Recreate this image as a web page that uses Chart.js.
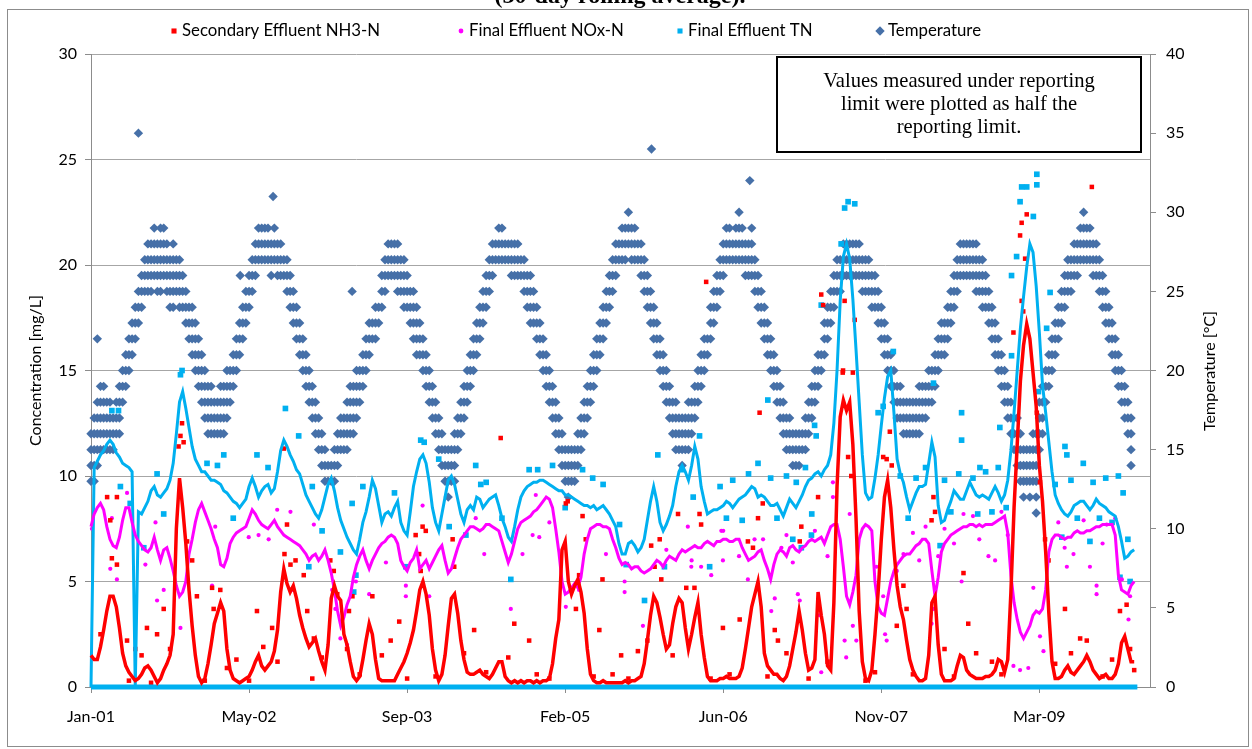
<!DOCTYPE html>
<html>
<head>
<meta charset="utf-8">
<script src="https://cdn.jsdelivr.net/npm/chart.js@4.4.1/dist/chart.umd.min.js"></script>
<style>
  html, body { margin: 0; padding: 0; background: #fff; }
  #wrap { width: 1252px; height: 749px; }
</style>
</head>
<body>
<div id="wrap"><canvas id="chart" width="1252" height="749"></canvas></div>
<script>
// ---- data -----------------------------------------------------------------
// x values are days since 1 Jan 2001; rolling averages are sampled every 10 days.
const WINDOW_DAYS = 10;

const tickDays   = [0, 500, 1000, 1500, 2000, 2500, 3000];
const tickLabels = ['Jan-01', 'May-02', 'Sep-03', 'Feb-05', 'Jun-06', 'Nov-07', 'Mar-09'];

// Secondary effluent NH3-N, rolling average [mg/L]
const nh3Avg = [
  1.5,1.3,1.3,1.9,2.7,3.6,4.3,4.3,3.8,2.8, 1.6,1.0,0.7,0.5,0.3,0.4,0.6,0.9,1.0,0.8,
  0.5,0.2,0.4,0.8,1.1,1.5,2.5,7.5,9.9,8.5, 6.8,4.6,2.9,1.5,0.5,0.2,0.4,1.1,2.0,3.0,
  3.5,4.0,3.6,1.8,0.8,0.4,0.3,0.2,0.3,0.4, 0.5,0.8,1.2,1.5,1.0,0.8,1.0,1.2,1.7,2.7,
  4.5,5.6,4.9,4.5,4.8,4.2,3.4,2.8,2.3,1.9, 2.1,2.3,1.7,1.2,0.8,2.0,4.2,4.8,4.3,4.1,
  2.5,2.0,1.2,0.5,0.3,0.5,1.3,2.2,3.0,2.5, 1.3,0.4,0.3,0.3,0.3,0.3,0.3,0.6,0.9,1.2,
  1.6,2.1,2.7,3.6,4.6,5.0,4.4,3.4,1.8,0.8, 0.3,0.6,1.5,2.9,4.2,4.4,3.5,2.2,1.3,0.7,
  0.6,0.6,0.7,0.8,0.6,0.5,0.4,0.6,0.9,1.2, 1.2,0.5,0.3,0.2,0.3,0.2,0.3,0.2,0.3,0.3,
  0.2,0.3,0.2,0.3,0.3,0.4,1.1,2.3,3.2,6.5, 6.9,5.0,4.4,4.8,5.1,4.5,3.5,1.8,0.6,0.3,
  0.2,0.2,0.3,0.2,0.2,0.2,0.2,0.2,0.2,0.3, 0.2,0.3,0.3,0.4,0.5,1.1,2.2,3.4,4.3,4.0,
  3.3,2.5,1.8,2.0,3.0,3.8,4.2,4.0,2.8,1.8, 2.5,3.3,4.0,2.5,1.4,0.5,0.3,0.3,0.3,0.4,
  0.4,0.5,0.4,0.4,0.4,0.5,0.9,1.8,2.8,3.8, 4.4,5.0,3.8,1.6,1.0,0.8,0.6,0.6,0.4,0.3,
  0.5,1.0,1.8,2.6,3.6,2.7,1.6,0.8,0.9,1.3, 4.5,3.4,2.5,1.0,0.8,4.0,9.5,12.8,13.6,13.1,
  13.5,11.5,8.0,3.6,1.2,0.4,0.3,0.8,2.5,4.5, 7.0,9.0,9.8,8.5,6.5,4.8,3.8,3.2,2.2,1.3,
  0.8,0.5,0.3,0.3,0.4,1.5,4.0,4.3,2.0,0.6, 0.3,0.3,0.3,0.4,1.0,1.5,1.4,0.8,0.6,0.5,
  0.4,0.4,0.4,0.5,0.5,0.6,0.8,1.3,1.2,0.7, 1.3,4.5,8.5,11.5,14.5,16.2,17.2,16.5,14.9,13.3,
  10.5,8.8,6.4,3.5,1.2,0.4,0.4,0.5,0.8,1.0, 0.7,0.6,0.8,1.0,1.2,1.5,1.2,0.8,0.6,0.4,
  0.5,0.6,0.4,0.4,0.6,1.1,2.1,2.4,1.8,1.2,1.2
];

// Final effluent NOx-N, rolling average [mg/L]
const noxAvg = [
  7.6,8.2,8.5,8.7,8.4,7.6,7.0,6.7,6.6,7.1, 7.9,8.5,8.5,7.8,7.2,6.9,6.7,6.5,6.4,6.6,
  7.1,6.5,6.0,6.5,6.6,6.1,5.5,4.8,4.3,4.5, 5.0,6.3,7.0,7.8,8.4,8.7,8.3,7.9,7.5,7.0,
  6.6,5.8,5.7,6.1,6.8,7.1,7.3,7.4,7.5,7.6, 8.0,8.4,8.2,7.9,7.7,7.6,7.5,7.7,7.9,7.6,
  7.4,7.2,7.1,7.0,6.9,6.8,6.7,6.5,6.3,6.0, 6.2,6.3,6.0,6.2,6.5,6.0,5.4,4.6,3.6,2.9,
  3.3,3.9,4.3,5.2,5.8,6.2,6.5,6.0,5.6,6.0, 6.3,6.6,6.8,6.9,7.1,7.2,7.1,6.8,6.0,5.7,
  5.5,5.9,6.1,6.5,5.6,5.8,6.0,5.6,5.9,6.2, 6.5,6.7,6.0,5.4,5.6,6.1,6.6,7.0,7.2,7.4,
  7.6,7.6,7.5,7.4,7.5,7.7,7.7,7.6,7.5,7.4, 6.9,6.4,5.9,6.3,6.9,7.5,7.8,7.9,8.0,8.1,
  8.3,8.4,8.6,8.8,9.0,8.9,8.5,7.5,6.4,5.0, 4.4,4.5,4.7,4.9,4.7,5.2,6.3,7.0,7.5,7.6,
  7.7,7.7,7.6,7.6,7.5,7.0,6.6,6.1,5.8,5.9, 5.8,5.6,5.7,5.7,5.5,5.4,5.5,5.6,5.8,6.0,
  5.9,5.7,6.0,6.2,6.1,6.0,6.3,6.5,6.4,6.5, 6.6,6.7,6.6,6.6,6.8,6.9,6.8,6.7,6.9,6.9,
  7.0,7.0,6.9,6.9,7.0,7.0,6.6,6.3,6.0,6.1, 6.2,6.4,6.5,6.0,5.6,5.1,5.8,6.3,6.5,6.4,
  6.2,6.6,6.7,6.5,6.4,6.6,6.7,6.9,7.0,6.9, 7.0,7.1,6.8,7.2,7.6,7.7,7.7,7.0,5.7,4.3,
  3.9,4.5,5.3,7.0,7.5,7.7,7.6,7.4,5.0,3.8, 3.5,3.4,4.2,5.0,5.5,5.8,6.0,6.2,6.3,6.3,
  6.5,6.7,6.8,7.0,7.0,6.8,5.5,4.3,5.2,6.4, 6.8,7.0,7.2,7.3,7.4,7.5,7.6,7.6,7.7,7.7,
  7.6,7.7,7.6,7.7,7.7,7.7,7.8,7.9,8.0,8.1, 7.3,5.3,4.0,3.2,2.6,2.3,2.6,2.9,3.4,3.6,
  3.5,3.7,4.6,6.4,7.0,7.2,7.2,7.1,7.0,7.1, 7.1,7.3,7.4,7.3,7.3,7.4,7.4,7.5,7.6,7.6,
  7.7,7.7,7.7,7.7,7.2,5.3,4.6,4.5,4.4,4.8,5.0
];

// Final effluent TN, rolling average [mg/L]
const tnAvg = [
  0,10.4,10.7,11.0,11.2,11.5,11.7,11.5,11.1,10.9, 10.6,10.5,10.4,10.2,0,8.3,8.2,8.5,8.8,9.3,
  9.5,9.1,9.0,9.2,9.4,9.8,10.6,12.0,13.5,14.0, 13.2,12.3,11.4,10.8,10.5,10.2,10.2,10.0,9.8,9.8,
  9.7,9.6,9.3,9.2,9.0,8.8,8.7,8.5,8.7,8.9, 9.5,9.9,9.5,9.0,9.3,9.5,9.6,9.2,9.4,10.2,
  11.2,11.7,11.4,11.0,10.7,10.3,10.1,9.6,9.1,8.8, 8.5,8.2,8.0,8.4,9.0,9.6,9.9,9.3,8.5,7.9,
  7.5,7.1,6.8,6.5,6.3,7.0,7.8,8.3,9.0,9.8, 9.4,8.6,7.8,8.2,8.3,8.1,8.5,8.8,7.8,7.4,
  7.2,8.3,9.5,10.2,10.8,11.0,10.6,9.7,8.5,7.8, 7.4,8.2,9.0,9.8,10.0,9.6,8.9,8.2,7.8,8.4,
  8.6,8.4,9.0,8.9,8.5,8.7,8.9,9.0,9.1,8.6, 8.0,7.6,7.1,6.9,7.6,8.4,9.0,9.3,9.5,9.6,
  9.7,9.7,9.8,9.8,9.7,9.6,9.5,9.4,9.3,9.3, 9.1,9.1,9.0,8.9,8.8,8.7,8.6,8.6,8.5,8.6,
  8.4,8.5,8.6,8.4,8.2,7.9,7.6,6.8,6.3,6.3, 6.8,6.9,6.7,6.4,6.6,7.0,7.9,8.8,9.5,8.8,
  7.8,7.4,7.7,8.1,8.6,9.5,10.2,10.5,10.2,9.8, 10.5,11.4,10.8,9.5,8.8,8.2,8.3,8.4,8.4,8.5,
  8.6,8.8,8.7,8.5,8.7,8.9,9.0,9.1,9.3,9.5, 9.4,9.0,9.1,9.0,8.8,8.6,8.6,8.7,8.4,8.1,
  8.5,8.9,8.7,8.5,8.8,9.1,9.5,9.8,9.9,10.1, 10.2,10.0,10.3,10.5,11.0,12.5,15.0,18.3,20.4,21.0,
  20.3,18.4,16.0,13.5,11.0,9.2,8.9,9.0,9.9,11.0, 12.4,13.7,14.7,15.0,13.0,10.8,10.1,9.7,9.0,8.4,
  8.8,9.2,9.5,9.5,9.6,10.6,11.6,10.9,8.6,7.8, 7.9,8.4,8.8,9.3,9.1,8.9,8.9,9.3,9.7,9.4,
  9.1,9.0,9.1,9.0,8.9,9.2,9.5,9.2,8.8,9.1, 9.8,11.2,13.0,15.0,17.0,18.5,19.9,21.0,20.6,19.0,
  16.8,14.3,13.0,11.6,10.2,9.1,8.7,8.4,8.2,8.1, 8.3,8.6,8.7,8.8,8.8,8.6,8.4,8.6,8.9,8.7,
  8.6,8.5,8.3,8.2,8.1,7.6,6.9,6.1,6.2,6.4,6.5
];

// Temperature [°C]: lowest and highest whole-degree reading in each 10-day window
const tempLo = [
  13,13,14,15,15,15,15,15,16,16, 18,19,20,21,22,23,24,25,25,25, 26,25,25,26,25,24,24,25,24,24,
  23,22,21,20,19,18,17,16,16,16, 16,16,16,17,18,19,20,21,22,23, 24,25,26,27,27,27,27,26,27,26,
  26,26,25,24,23,22,21,20,19,18, 17,16,15,14,13,13,13,13,14,15, 15,15,16,16,17,18,19,20,21,22,
  22,23,24,25,26,26,26,25,25,24, 24,23,22,21,21,20,19,18,17,16, 15,14,13,12,13,13,15,16,17,18,
  19,20,21,22,23,24,25,26,27,27, 27,27,27,26,26,26,26,25,24,23, 23,22,21,20,19,18,17,16,15,14,
  13,12,13,13,14,15,16,17,18,19, 20,21,22,23,24,25,26,27,27,27, 28,27,27,27,26,25,24,23,22,21,
  20,19,18,17,16,15,15,14,15,15, 16,17,18,19,20,21,22,23,24,25, 26,27,27,27,27,27,27,26,26,26,
  25,24,23,22,21,20,19,18,17,16, 15,15,14,14,14,15,15,16,17,18, 19,20,21,22,23,24,25,25,26,26,
  26,26,26,26,25,25,25,24,24,23, 22,21,20,19,18,17,17,16,16,16, 16,16,16,17,17,18,18,19,20,21,
  21,22,23,24,25,26,26,26,26,26, 25,25,24,24,23,22,21,20,19,18, 17,16,15,14,13,12,13,12,13,11,
  15,16,18,19,20,21,22,23,24,25, 25,26,26,27,27,27,27,26,26,25, 24,23,22,21,20,19,18,17,16,14
];
const tempHi = [
  16,17,18,19,19,18,18,17,18,19, 20,21,22,23,24,25,26,27,28,28, 29,28,29,29,28,27,28,27,27,26,
  25,24,24,23,22,21,20,19,19,18, 18,19,19,20,20,21,22,23,24,25, 26,27,28,29,29,29,29,28,29,28,
  28,27,27,26,25,24,23,22,21,20, 19,18,17,16,15,14,14,15,16,17, 17,18,19,19,20,20,21,22,23,23,
  24,24,26,27,28,28,28,28,27,27, 26,25,25,24,23,22,21,20,19,18, 17,16,15,15,15,16,17,18,19,20,
  21,22,23,24,25,26,27,28,28,29, 29,28,28,28,28,28,27,27,26,26, 25,24,23,22,21,20,19,18,17,16,
  15,15,15,15,16,17,18,19,20,21, 22,23,24,25,26,27,28,28,29,29, 30,29,29,28,28,27,26,25,24,23,
  22,21,20,19,18,18,17,17,17,18, 18,19,20,21,22,22,24,25,26,27, 28,29,29,28,29,30,29,28,28,29,
  27,26,25,24,23,22,21,20,19,18, 17,17,16,16,16,16,17,18,19,20, 21,21,23,24,25,26,27,27,28,28,
  28,28,28,28,27,27,27,26,26,25, 24,23,22,21,20,19,19,18,18,18, 18,18,19,19,19,20,20,21,22,23,
  23,24,25,26,27,28,28,28,28,28, 28,27,27,26,25,24,23,22,21,20, 19,18,17,17,16,15,15,15,16,16,
  18,19,20,21,22,23,24,25,26,27, 27,28,28,29,30,29,29,28,28,27, 26,25,24,23,22,21,20,19,18,17
];
// isolated temperature readings [day, °C]
const tempSingles = [[20,22],[150,35],[472,26],[576,31],[826,25],[1773,34],[2084,32]];

// individual samples [day, mg/L]
const nh3Samples = [
  [30,2.5],[51,9.0],[61,7.9],[66,6.1],[82,9.0],[82,5.8],[114,2.2],[140,1.8],[177,2.8],[209,2.5],
  [230,3.7],[277,11.4],[283,11.9],[288,12.5],[293,11.6],[304,6.9],[320,6.0],[335,4.3],[383,4.7],[388,3.7],
  [409,4.6],[525,3.6],[573,2.8],[610,11.3],[620,7.7],[612,6.3],[631,5.8],[647,6.0],[673,5.3],[684,3.6],
  [705,2.3],[757,6.0],[768,5.5],[779,4.4],[810,1.8],[816,3.6],[827,4.3],[890,4.3],[948,2.2],[975,3.1],
  [1027,7.2],[1038,6.3],[1043,5.5],[1049,7.6],[1059,7.4],[1144,7.0],[1149,5.7],[1212,2.7],[1296,11.8],[1339,3.0],
  [1386,2.2],[1502,8.7],[1508,8.8],[1534,3.7],[1544,5.3],[1555,8.1],[1565,7.0],[1608,2.7],[1618,5.1],[1677,1.5],
  [1730,1.7],[1772,6.7],[1783,5.7],[1799,7.0],[1804,5.1],[1857,8.2],[1883,4.7],[1909,4.7],[1925,8.2],[1930,7.7],
  [1946,19.2],[1999,2.8],[2052,3.2],[2078,6.9],[2094,6.6],[2110,8.0],[2115,13.0],[2125,8.7],[2163,2.7],[2173,2.2],
  [2242,6.9],[2247,7.6],[2300,9.0],[2310,18.6],[2316,18.1],[2378,14.9],[2379,15.0],[2384,18.3],[2395,10.9],[2405,10.0],
  [2410,14.9],[2416,17.4],[2506,10.9],[2517,10.8],[2527,12.1],[2533,10.5],[2549,2.9],[2570,4.8],[2580,3.7],[2659,7.9],
  [2665,9.0],[2670,8.3],[2760,5.4],[2775,3.0],[2918,16.8],[2939,21.4],[2944,22.0],[2944,18.3],[2949,17.8],[2955,20.3],
  [2960,22.4],[2992,13.0],[3002,9.7],[3018,7.0],[3029,6.0],[3081,3.7],[3129,2.3],[3150,2.2],[3166,23.7],[3255,3.6],
  [3276,3.9],[3287,1.8],
  [120,0.3],[160,1.5],[190,0.2],[250,1.8],[360,0.3],[430,0.9],[460,1.3],[500,0.3],[545,1.9],[590,1.2],
  [700,0.4],[730,1.4],[850,0.6],[920,1.5],[1000,0.4],[1090,0.5],[1180,1.6],[1250,0.7],[1320,1.4],[1410,0.6],
  [1450,0.4],[1590,0.5],[1650,0.6],[1700,0.4],[1760,2.2],[1840,1.5],[1960,0.4],[2020,0.6],[2140,0.5],[2200,1.6],
  [2270,0.4],[2330,1.2],[2450,0.3],[2480,0.7],[2600,0.6],[2700,1.8],[2730,0.5],[2800,1.6],[2850,1.2],[2880,0.6],
  [3050,1.1],[3100,1.6],[3200,0.5],[3230,1.3],[3300,0.8]
];
const noxSamples = [
  [3,7.5],[61,5.6],[66,8.0],[82,5.1],[114,9.2],[130,0],[172,5.8],[204,7.8],[209,4.1],[230,4.6],
  [283,2.8],[383,4.8],[393,7.6],[499,7.1],[530,7.2],[562,7.0],[589,8.4],[631,8.3],[636,4.6],[705,7.7],
  [763,4.6],[773,3.7],[789,2.3],[810,2.0],[838,5.0],[880,4.4],[933,5.9],[996,4.8],[996,4.3],[1049,8.6],
  [1070,4.3],[1217,8.0],[1244,6.3],[1328,3.7],[1365,6.3],[1397,7.2],[1407,9.1],[1418,7.1],[1450,7.8],[1502,3.8],
  [1544,4.6],[1629,6.3],[1688,5.0],[1688,4.5],[1746,2.9],[1820,6.5],[1888,7.6],[1899,5.7],[1930,5.7],[1962,5.3],
  [1994,7.4],[1999,6.0],[2078,5.1],[2099,7.0],[2126,7.0],[2152,3.6],[2163,4.2],[2184,6.6],[2236,4.4],[2242,4.1],
  [2305,3.4],[2310,0.7],[2347,9.7],[2347,9.0],[2384,2.2],[2389,1.4],[2400,8.2],[2410,2.9],[2421,2.2],[2485,5.7],
  [2506,4.3],[2512,2.5],[2517,2.2],[2549,5.5],[2570,6.3],[2659,3.0],[2665,3.7],[2754,5.0],[2760,8.2],[2839,6.2],
  [2860,6.0],[2918,1.0],[2939,0.8],[2965,0.9],[2981,4.7],[3002,2.4],[3013,1.7],[3087,5.7],[3108,6.3],[3160,5.7],
  [3181,4.8],[3181,4.4],[3213,7.7],[3261,5.1],[3282,3.2],[3287,4.3],
  [2600,7.3],[2620,6.0],[2640,7.6],[2680,6.2],[2700,7.5],[2730,6.8],[2790,8.1],[2810,7.0],[2880,8.3],[2900,7.2],
  [3060,7.8],[3080,6.6],[3140,7.9],[3200,6.8],[3240,8.0],[1900,6.0],[2000,7.4],[2050,6.2],[2200,7.2],[2220,5.9],
  [2290,7.4],[2330,6.2]
];
const tnSamples = [
  [66,13.1],[87,13.1],[93,9.5],[124,8.7],[167,6.6],[209,10.1],[230,8.2],[283,14.8],[288,15.0],[367,10.6],
  [420,11.0],[525,11.0],[615,13.2],[657,11.9],[689,5.7],[731,7.4],[789,6.4],[826,8.7],[831,4.5],[838,5.3],
  [996,5.7],[1043,11.7],[1054,11.6],[1133,7.6],[1186,7.2],[1217,10.5],[1233,9.6],[1328,5.1],[1386,10.3],[1413,10.3],
  [1555,10.3],[1587,9.9],[1672,7.7],[1693,5.8],[1751,4.1],[1793,11.0],[1814,5.7],[1925,11.9],[1957,5.7],[2110,10.6],
  [2141,13.6],[2220,7.0],[2231,9.7],[2247,6.6],[2279,7.2],[2289,12.4],[2294,11.9],[2310,18.1],[2373,21.0],[2384,22.7],
  [2395,23.0],[2416,22.9],[2490,13.0],[2506,13.3],[2538,15.9],[2665,14.4],[2686,6.7],[2754,13.0],[2754,11.7],[2812,10.4],
  [2875,12.3],[2912,19.5],[2912,15.7],[2928,20.4],[2939,23.0],[2944,23.7],[2960,23.7],[2981,22.3],[2992,24.3],[2992,23.8],
  [2997,14.0],[3023,17.0],[3034,18.7],[3071,7.1],[3081,11.4],[3087,11.0],[3139,10.6],[3160,6.9],[3250,10.0],[3255,5.2],
  [3287,5.0],
  [1870,10.3],[1905,9.0],[1990,9.5],[2010,8.0],[2030,9.8],[2060,7.9],[2080,10.1],[2150,9.9],[2170,8.0],[2200,10.0],
  [2260,10.4],[2280,8.2],[2560,10.0],[2585,8.0],[2610,9.9],[2640,10.4],[2700,9.8],[2720,8.3],[2745,10.1],[2790,9.9],
  [2805,8.2],[2830,10.2],[2850,8.3],[2870,10.4],[2895,8.5],[3050,9.6],[3100,9.8],[3120,8.0],[3170,9.7],[3190,8.0],
  [3210,9.9],[3230,7.8],[3265,9.2],[3280,7.0],[400,10.5],[450,8.0],[560,10.4],[700,9.5],[860,9.5],[960,9.2],
  [1100,10.8],[1250,9.7],[1300,8.0],[1460,10.5],[1500,8.5],[1620,9.6]
];
// TN record treated as zero where no value was reported
const tnZeroSpan = [0, 3310];

// ---- building the chart ---------------------------------------------------
const FONT = 'Lato, "Open Sans", sans-serif';
const RED = '#FF0000', MAGENTA = '#FF00FF', CYAN = '#00B0F0', STEEL = '#4670A8';

const series = arr => arr.map((v, i) => ({ x: i * WINDOW_DAYS, y: v }));
const pairs = arr => arr.map(([d, v]) => ({ x: d, y: v }));

const tempPoints = [];
tempLo.forEach((lo, i) => {
  for (let t = lo; t <= tempHi[i]; t++) tempPoints.push({ x: i * WINDOW_DAYS, y: t });
});
tempSingles.forEach(([d, t]) => tempPoints.push({ x: d, y: t }));

const lineDs = (data, color, width) => ({
  type: 'line', data, borderColor: color, borderWidth: width, pointRadius: 0,
  fill: false, tension: 0, yAxisID: 'y', clip: 6
});
const pointDs = (label, data, color, style, radius, axis) => ({
  type: 'scatter', label, data, backgroundColor: color, borderWidth: 0,
  pointStyle: style, pointRadius: radius, pointHoverRadius: radius,
  yAxisID: axis, clip: 8
});

// first dataset is painted last (on top)
const datasets = [
  lineDs(series(nh3Avg), RED, 3.5),
  lineDs(series(noxAvg), MAGENTA, 3),
  lineDs(series(tnAvg), CYAN, 3),
  lineDs(tnZeroSpan.map(d => ({ x: d, y: 0 })), CYAN, 5),
  pointDs('Secondary Effluent NH3-N', pairs(nh3Samples), RED, 'rect', 3.2, 'y'),
  pointDs('Final Effluent NOx-N', pairs(noxSamples), MAGENTA, 'circle', 2.1, 'y'),
  pointDs('Final Effluent TN', pairs(tnSamples), CYAN, 'rect', 4.0, 'y'),
  pointDs('Temperature', tempPoints, STEEL, 'rectRot', 4.7, 'y2')
];

const legendOrder = ['Secondary Effluent NH3-N', 'Final Effluent NOx-N', 'Final Effluent TN', 'Temperature'];
const legendX = [174, 461, 680, 880];

function marker(ctx, style, radius, x, y) {
  const h = Chart.helpers;
  if (h && h.drawPoint) {
    h.drawPoint(ctx, { pointStyle: style, radius, rotation: 0, borderWidth: 0 }, x, y);
    return;
  }
  ctx.beginPath();
  if (style === 'circle') ctx.arc(x, y, radius, 0, Math.PI * 2);
  else if (style === 'rectRot') { ctx.moveTo(x - radius, y); ctx.lineTo(x, y - radius); ctx.lineTo(x + radius, y); ctx.lineTo(x, y + radius); ctx.closePath(); }
  else { const s = radius * Math.SQRT1_2; ctx.rect(x - s, y - s, 2 * s, 2 * s); }
  ctx.fill();
}

const decor = {
  id: 'decor',
  afterDraw(chart) {
    const ctx = chart.ctx;
    ctx.save();

    // outer frame
    ctx.strokeStyle = '#8C8C8C';
    ctx.lineWidth = 1;
    ctx.strokeRect(7.5, 9.5, 1241, 737);

    // last line of the figure heading, mostly above the frame
    ctx.fillStyle = '#000';
    ctx.font = 'bold 24px "Liberation Serif", "DejaVu Serif", serif';
    ctx.textAlign = 'center';
    ctx.textBaseline = 'alphabetic';
    ctx.fillText('(30-day rolling average).', 620, 3);

    // legend
    ctx.font = '16.8px ' + FONT;
    ctx.textAlign = 'left';
    ctx.textBaseline = 'middle';
    legendOrder.forEach((label, k) => {
      const ds = chart.data.datasets.find(d => d.label === label);
      ctx.fillStyle = ds.backgroundColor;
      const r = ds.pointStyle === 'rectRot' ? 4.7 : (ds.pointStyle === 'circle' ? 2.4 : 3.6);
      marker(ctx, ds.pointStyle, r, legendX[k], 31);
      ctx.fillStyle = '#000';
      ctx.fillText(label, legendX[k] + 8, 31);
    });

    // right axis title, reading bottom-to-top
    ctx.save();
    ctx.translate(1210, 371);
    ctx.rotate(-Math.PI / 2);
    ctx.textAlign = 'center';
    ctx.font = '16px ' + FONT;
    ctx.fillText('Temperature [°C]', 0, 0);
    ctx.restore();

    // note box
    ctx.fillStyle = '#fff';
    ctx.fillRect(777, 57, 364, 95);
    ctx.strokeStyle = '#000';
    ctx.lineWidth = 2;
    ctx.strokeRect(777, 57, 364, 95);
    ctx.fillStyle = '#000';
    ctx.font = '20.6px "Liberation Serif", "DejaVu Serif", serif';
    ctx.textAlign = 'center';
    ctx.textBaseline = 'middle';
    ['Values measured under reporting', 'limit were plotted as half the', 'reporting limit.']
      .forEach((t, k) => ctx.fillText(t, 959, 82 + k * 23));

    ctx.restore();
  }
};

new Chart(document.getElementById('chart'), {
  type: 'scatter',
  data: { datasets },
  plugins: [decor],
  options: {
    responsive: false,
    animation: false,
    events: [],
    layout: { padding: { top: 54, left: 0, right: 0, bottom: 0 } },
    plugins: { legend: { display: false }, tooltip: { enabled: false } },
    scales: {
      x: {
        type: 'linear', min: 0, max: 3350,
        afterBuildTicks: s => { s.ticks = tickDays.map(v => ({ value: v })); },
        afterFit: s => { s.height = 62; },
        ticks: {
          autoSkip: false, maxRotation: 0, padding: 14, color: '#000',
          font: { family: FONT, size: 16 },
          callback: v => tickLabels[tickDays.indexOf(v)] ?? ''
        },
        grid: { drawOnChartArea: false, tickLength: 6, tickColor: '#8C8C8C' },
        border: { color: '#8C8C8C' }
      },
      y: {
        type: 'linear', position: 'left', min: 0, max: 30,
        afterFit: s => { s.width = 91; },
        ticks: { stepSize: 5, padding: 8, color: '#000', font: { family: FONT, size: 16 } },
        grid: { color: '#A6A6A6', tickLength: 6, tickColor: '#8C8C8C' },
        border: { color: '#8C8C8C' },
        title: {
          display: true, text: 'Concentration [mg/L]', color: '#000',
          font: { family: FONT, size: 16 }, padding: { top: 26, bottom: 0 }
        }
      },
      y2: {
        type: 'linear', position: 'right', min: 0, max: 40,
        afterFit: s => { s.width = 102; },
        ticks: { stepSize: 5, padding: 10, color: '#000', font: { family: FONT, size: 16 } },
        grid: { drawOnChartArea: false, tickLength: 6, tickColor: '#8C8C8C' },
        border: { color: '#8C8C8C' }
      }
    }
  }
});
</script>
</body>
</html>
